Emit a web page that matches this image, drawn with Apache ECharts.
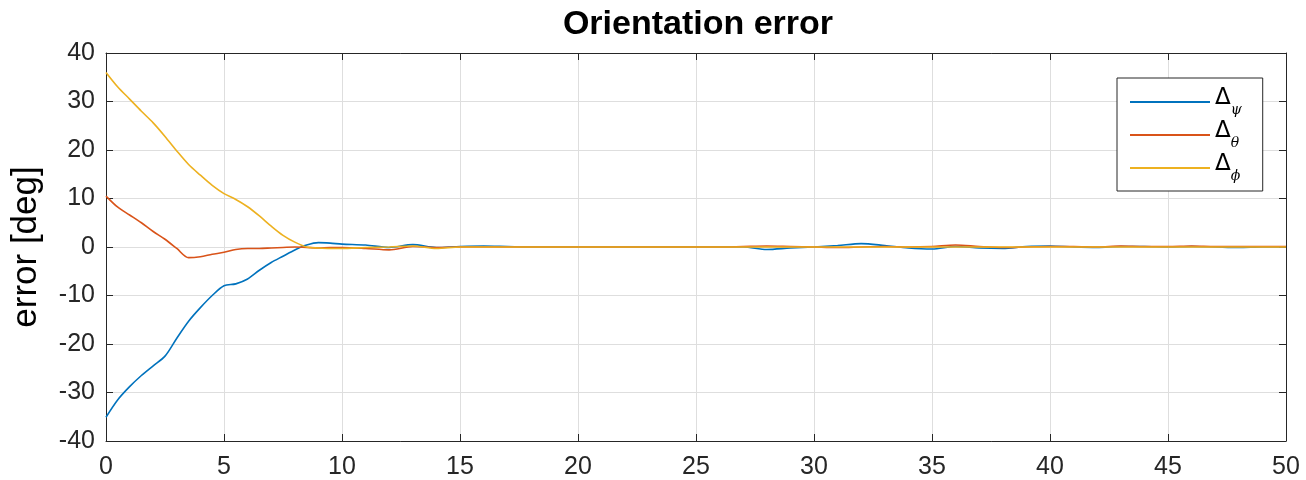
<!DOCTYPE html>
<html><head><meta charset="utf-8">
<script src="https://cdn.jsdelivr.net/npm/echarts@6/dist/echarts.min.js"></script>
<style>html,body{margin:0;padding:0;background:#fff}#c{width:1306px;height:480px}</style>
</head><body><div id="c"></div>
<script>
const time = [0,0.5,1,1.5,2,2.5,3,3.5,4,4.5,5,5.5,6,6.5,7,7.5,8,8.5,9,9.5,10,
  11,12,13,14,15,16,17,18,19,20,21,22,23,24,25,26,27,28,29,30,31,32,33,34,35,36,37,38,39,40,41,42,43,44,45,46,47,48,49,50];
const dPsi = [-35.1,-31.5,-28.8,-26.5,-24.5,-22.5,-18.8,-15.3,-12.5,-10.0,-8.0,-7.6,-6.6,-4.8,-3.2,-1.9,-0.6,0.4,0.9,0.8,0.6,
  0.4,-0.1,0.5,-0.1,0.1,0.2,0.1,0.0,0.0,0.0,0.0,0.0,0.0,0.0,0.0,0.0,0.0,-0.5,-0.2,0.0,0.3,0.7,0.3,-0.2,-0.4,0.1,-0.2,-0.3,0.1,0.2,0.0,-0.1,0.1,0.1,0.0,0.1,0.0,-0.1,0.0,0.0];
const dTheta = [10.5,8.2,6.6,5.0,3.2,1.6,-0.3,-2.2,-2.0,-1.5,-1.1,-0.5,-0.3,-0.3,-0.2,-0.1,0.0,-0.1,-0.2,-0.1,-0.1,
  -0.3,-0.6,0.1,-0.1,0.0,0.0,0.0,0.0,0.0,0.0,0.0,0.0,0.0,0.0,0.0,0.0,0.1,0.2,0.1,0.0,-0.1,0.0,0.1,0.0,0.1,0.4,0.1,-0.1,0.0,0.1,0.1,0.0,0.2,0.1,0.1,0.2,0.1,0.1,0.1,0.1];
const dPhi = [36.0,33.0,30.5,28.0,25.6,22.8,19.8,17.0,14.8,12.7,11.0,9.8,8.3,6.4,4.3,2.4,1.0,0.0,-0.2,-0.3,-0.3,
  -0.1,0.0,0.2,-0.3,0.0,0.0,0.0,0.0,0.0,0.0,0.0,0.0,0.0,0.0,0.0,0.0,0.0,0.0,0.0,0.0,0.0,0.0,0.0,0.0,0.0,0.0,0.0,0.0,0.0,0.0,0.0,0.0,0.0,0.0,0.0,0.0,0.0,0.0,0.0,0.0];
const xTicks = [0,5,10,15,20,25,30,35,40,45,50];
const yTicks = [-40,-30,-20,-10,0,10,20,30,40];
const names = ['psi','theta','phi'];
const subs = {psi:'ψ', theta:'θ', phi:'ϕ'};
const colors = ['#0072BD','#D95319','#EDB120'];

const chart = echarts.init(document.getElementById('c'));
const pair = (arr) => time.map((t,i)=>[t,arr[i]]);
const axisCommon = () => ({
  axisLine:{show:true,onZero:false,lineStyle:{color:'#262626',width:1}},
  axisTick:{show:true,inside:true,length:7,lineStyle:{color:'#262626'}},
});
chart.setOption({
  animation:false,
  title:{text:'Orientation error',left:693,top:3,textAlign:'center',
    textStyle:{fontFamily:'Liberation Sans, Arial',fontSize:34,fontWeight:'bold',color:'#000'}},
  grid:{left:106,right:20,top:53,bottom:38,containLabel:false,show:false},
  legend:{
    orient:'vertical',left:1117,top:78,
    data:names.map(n=>({name:n,icon:'rect'})),
    backgroundColor:'#fff',borderColor:'#262626',borderWidth:1,
    padding:[9,21,5,13],itemGap:0,itemWidth:80,itemHeight:2,
    formatter:(n)=>'{d|Δ}{s|'+subs[n]+'}',
    textStyle:{rich:{
      d:{fontFamily:'DejaVu Sans',fontSize:23,color:'#000',lineHeight:30,verticalAlign:'top',padding:[0,0,10,0]},
      s:{fontFamily:'DejaVu Serif',fontStyle:'italic',fontSize:14,color:'#000',lineHeight:30,verticalAlign:'bottom',padding:[14,0,0,0]}
    }}
  },
  xAxis:[{
    type:'value',min:0,max:50,interval:5,position:'bottom',...axisCommon(),
    axisLabel:{fontFamily:'Liberation Sans, Arial',fontSize:25,color:'#262626',margin:14},
    splitLine:{show:true,lineStyle:{color:'#dedede',width:1}}
  },{
    type:'value',min:0,max:50,interval:5,position:'top',...axisCommon(),
    axisLabel:{show:false},splitLine:{show:false}
  }],
  yAxis:[{
    type:'value',min:-40,max:40,interval:10,position:'left',...axisCommon(),
    name:'error [deg]',nameLocation:'middle',nameGap:62,
    nameTextStyle:{fontFamily:'Liberation Sans, Arial',fontSize:35,color:'#000'},
    axisLabel:{fontFamily:'Liberation Sans, Arial',fontSize:25,color:'#262626',margin:11},
    splitLine:{show:true,lineStyle:{color:'#dedede',width:1}}
  },{
    type:'value',min:-40,max:40,interval:10,position:'right',...axisCommon(),
    axisLabel:{show:false},splitLine:{show:false}
  }],
  series:[dPsi,dTheta,dPhi].map((arr,i)=>({
    name:names[i],type:'line',data:pair(arr),symbol:'none',smooth:0.3,
    lineStyle:{color:colors[i],width:1.6},itemStyle:{color:colors[i]},
    xAxisIndex:0,yAxisIndex:0
  }))
});
</script></body></html>
